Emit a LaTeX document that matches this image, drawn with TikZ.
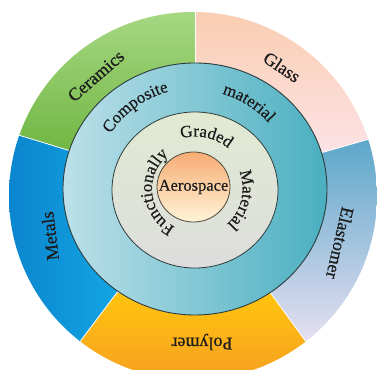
\documentclass[tikz,border=0pt]{standalone}
\usepackage{fontspec}
\setmainfont{Liberation Serif}[FakeBold=0.5]
\usetikzlibrary{decorations.text,calc}
\definecolor{txt}{HTML}{1C1C1C}
\definecolor{cerTop}{HTML}{A8D884}
\definecolor{cerBot}{HTML}{6FB642}
\definecolor{glaTop}{HTML}{F9CDB0}
\definecolor{glaBot}{HTML}{FDE5EC}
\definecolor{elaTop}{HTML}{55A4C8}
\definecolor{elaBot}{HTML}{E8E0F2}
\definecolor{polTop}{HTML}{FFC30F}
\definecolor{polBot}{HTML}{F6A020}
\definecolor{metL}{HTML}{0A84CE}
\definecolor{metR}{HTML}{14AAE6}
\definecolor{comL}{HTML}{BCE0E9}
\definecolor{comR}{HTML}{4AAFC0}
\definecolor{fgmTop}{HTML}{E1EAD1}
\definecolor{fgmBot}{HTML}{DDDDDD}
\definecolor{aerTop}{HTML}{F7AC74}
\definecolor{aerBot}{HTML}{FFF4D8}
\definecolor{rim}{HTML}{2E3C3C}
\newcommand\lblfont{\color{txt}\fontsize{17pt}{20pt}\selectfont}
\newcommand\outfont{\color{txt}\fontsize{18pt}{21pt}\selectfont}
\tikzset{
  outerlabel/.style={font=\outfont, text=txt, inner sep=0pt, anchor=center},
  arctext/.style={decorate, decoration={text along path, text align=center, text={|\lblfont|#1}}},
  ringline/.style={draw=rim, line width=0.9pt}
}
\begin{document}
\begin{tikzpicture}[x=1pt,y=1pt]
\useasboundingbox (0,0) rectangle (377,369);
\clip (0,0) rectangle (377,369);
\fill[white] (0,0) rectangle (377,369);
\coordinate (C) at (195,180);
\coordinate (O) at (193,173);
% outer ring sectors
\begin{scope}
  \clip (O) circle[radius=184];
  % Glass
  \begin{scope}
    \clip (C) -- +(16:400) -- +(53:400) -- +(90:400) -- cycle;
    \shade[top color=glaTop, bottom color=glaBot] (195,200) rectangle (377,360);
  \end{scope}
  % Ceramics
  \begin{scope}
    \clip (C) -- +(90:400) -- +(126.5:400) -- +(163:400) -- cycle;
    \shade[top color=cerTop, bottom color=cerBot] (5,215) rectangle (195,360);
  \end{scope}
  % Metals
  \begin{scope}
    \clip (C) -- +(163:400) -- +(198:400) -- +(233:400) -- cycle;
    \shade[left color=metL, right color=metR] (5,20) rectangle (135,240);
  \end{scope}
  % Polymer
  \begin{scope}
    \clip (C) -- +(233:400) -- +(269.5:400) -- +(306:400) -- cycle;
    \shade[top color=polTop, bottom color=polBot] (75,-12) rectangle (315,75);
  \end{scope}
  % Elastomer
  \begin{scope}
    \clip (C) -- +(306:400) -- +(341:400) -- +(376:400) -- cycle;
    \shade[top color=elaTop, bottom color=elaBot] (255,25) rectangle (377,240);
  \end{scope}
  \foreach \a in {16,90,163,233,306}
    \draw[white!92!black!5, line width=0.8pt] (C) -- +(\a:400);
\end{scope}
% composite ring
\shade[left color=comL, right color=comR] (C) ellipse[x radius=132, y radius=126];
\draw[ringline] (C) ellipse[x radius=132, y radius=126];
% functionally graded ring
\shade[top color=fgmTop, bottom color=fgmBot] (195,179) ellipse[x radius=83, y radius=78];
\draw[ringline, line width=0.8pt] (195,179) ellipse[x radius=83, y radius=78];
% aerospace core
\shade[top color=aerTop, bottom color=aerBot] (193.5,182) ellipse[x radius=36.5, y radius=35];
\draw[draw=rim!80!brown, line width=0.8pt] (193.5,182) ellipse[x radius=36.5, y radius=35];
\node[font=\color{txt}\fontsize{16.5pt}{18pt}\selectfont, inner sep=0pt] (aero) at (193.5,182) {Aerospace};
% outer labels
\node[outerlabel, rotate=41] (ceramics) at (96,293) {Ceramics};
\node[outerlabel, rotate=-34] (glass) at (282,302) {Glass};
\node[outerlabel, rotate=-103] (elastomer) at (340,126) {Elastomer};
\node[outerlabel, rotate=180] (polymer) at (202,27) {Polymer};
\node[outerlabel, rotate=97] (metals) at (50,133) {Metals};
% curved labels
\path[arctext=Composite] ($(C)+(176:101)$) arc[start angle=176, end angle=76, radius=101];
\path[arctext=material] ($(C)+(108:99)$) arc[start angle=108, end angle=8, radius=99];
\path[arctext=Graded] ($(C)+(148:52.5)$) arc[start angle=148, end angle=8, radius=52.5];
\path[arctext=Functionally] ($(C)+(265:43)$) arc[start angle=265, end angle=105, radius=43];
\path[arctext=Material] ($(C)+(57:47.5)$) arc[start angle=57, end angle=-83, radius=47.5];
\end{tikzpicture}
\end{document}
